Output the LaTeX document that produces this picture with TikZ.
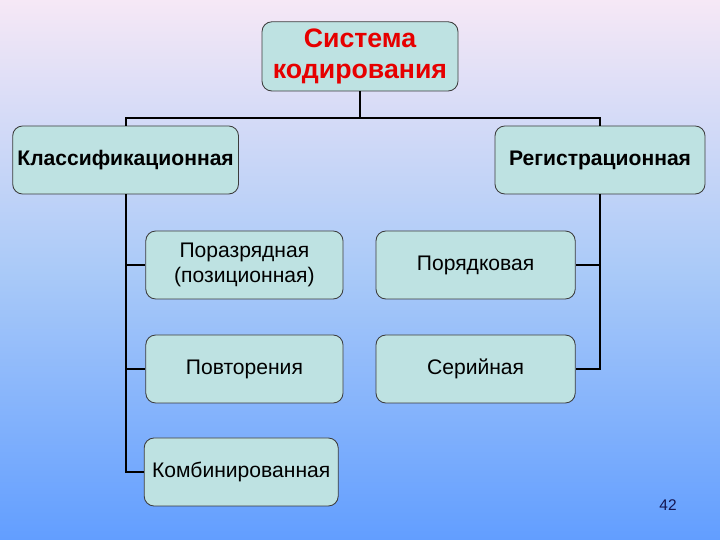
\documentclass[tikz,border=0pt]{standalone}
\usepackage{fontspec}
\setmainfont{Liberation Sans}
\usepackage{tikz}
\usetikzlibrary{positioning, calc}

\definecolor{bgtop}{RGB}{246,232,246}
\definecolor{bgmid}{RGB}{170,202,248}
\definecolor{bgbot}{RGB}{98,158,255}
\definecolor{boxfill}{RGB}{190,226,226}
\definecolor{boxline}{RGB}{60,60,60}
\definecolor{titlered}{RGB}{230,0,0}
\definecolor{pagenum}{RGB}{20,20,80}

\begin{document}
\begin{tikzpicture}[
  %%── Styles ───────────────────────────────────────────────────────────────
  kind/.style={
    draw=boxline, fill=boxfill, line width=0.6pt, rounded corners=7pt,
    minimum height=1.7cm, align=center, font=\fontsize{15}{18}\selectfont
  },
  group/.style={kind, font=\fontsize{15}{18}\selectfont\bfseries},
  conn/.style={draw=black, line width=1.5pt},
]

%%── Background (18cm x 13.5cm slide) ─────────────────────────────────────
\fill[top color=bgtop, bottom color=bgbot, middle color=bgmid]
    (0,0) rectangle (18,13.5);
\useasboundingbox (0,0) rectangle (18,13.5);

%%── Root ─────────────────────────────────────────────────────────────────
\node[kind, minimum width=4.9cm, minimum height=1.73cm, text=titlered,
      font=\fontsize{19}{22.5}\selectfont\bfseries] (root)
    at (9.0, 12.09) {Система\\кодирования};

%%── Main groups (y = 9.5) ────────────────────────────────────────────────
\node[group, minimum width=5.58cm] (klass) at ( 3.14, 9.5) {Классификационная};
\node[group, minimum width=5.25cm] (reg)   at (15.0,  9.5) {Регистрационная};

%%── Classification kinds (left column) ───────────────────────────────────
\node[kind, minimum width=4.93cm] (razr)  at (6.11, 6.875) {Поразрядная\\(позиционная)};
\node[kind, minimum width=4.93cm] (povt)  at (6.11, 4.275) {Повторения};
\node[kind, minimum width=4.85cm] (kombi) at (6.03, 1.70)  {Комбинированная};

%%── Registration kinds (right column) ────────────────────────────────────
\node[kind, minimum width=4.98cm] (poryad) at (11.89, 6.875) {Порядковая};
\node[kind, minimum width=4.98cm] (ser)    at (11.89, 4.275) {Серийная};

%%── Connectors ───────────────────────────────────────────────────────────
\coordinate (bus) at (9.0, 10.55);
\draw[conn] (root.south) -- (bus);
\draw[conn] (klass.north) |- (bus) -| (reg.north);

\draw[conn] (klass.south) |- (kombi.west);
\foreach \k in {razr, povt} {
  \draw[conn] (klass.south |- \k.west) -- (\k.west);
}

\draw[conn] (reg.south) |- (ser.east);
\draw[conn] (reg.south |- poryad.east) -- (poryad.east);

%%── Page number ──────────────────────────────────────────────────────────
\node[font=\fontsize{11}{13}\selectfont, text=pagenum] (page) at (16.7, 0.88) {42};

\end{tikzpicture}
\end{document}
